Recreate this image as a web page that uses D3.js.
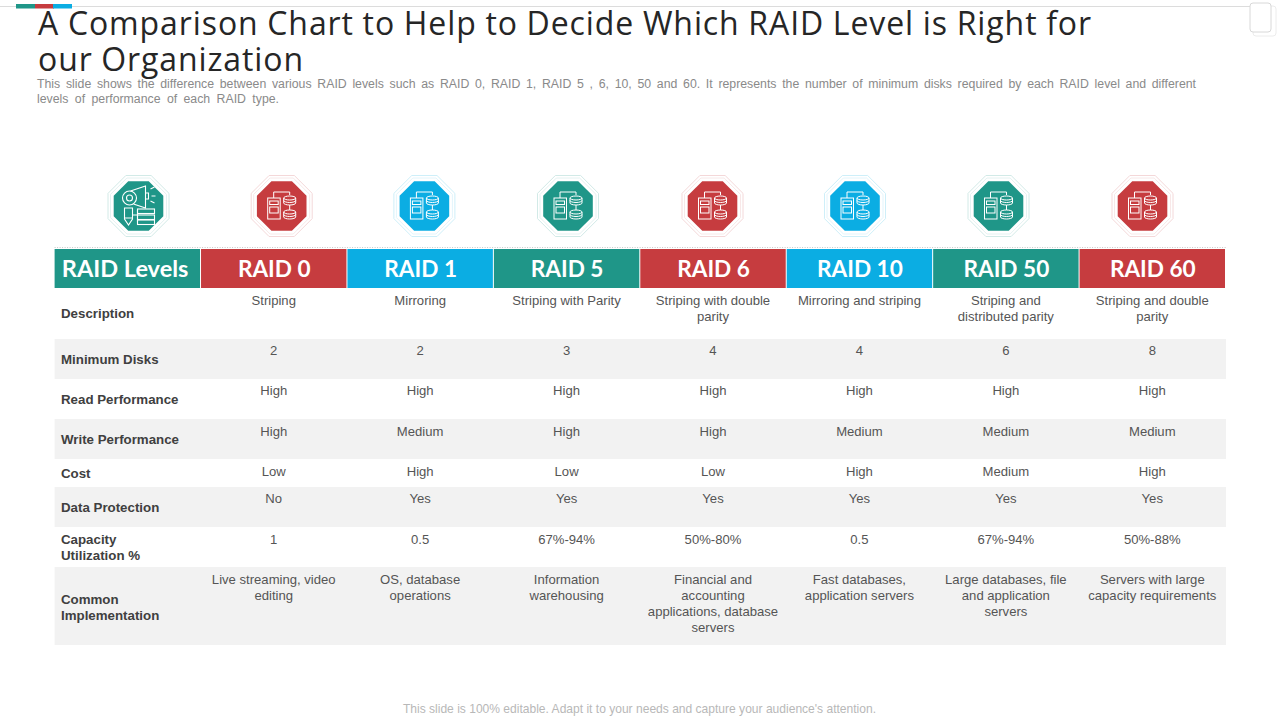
<!DOCTYPE html>
<html>
<head>
<meta charset="utf-8">
<script src="https://cdn.jsdelivr.net/npm/d3@7"></script>
<style>
  html, body { margin: 0; padding: 0; background: #fff; overflow: hidden; }
  svg { display: block; }
</style>
</head>
<body>
<div id="chart"></div>
<script>
const titleLines = ['A Comparison Chart to Help to Decide Which RAID Level is Right for', 'our Organization'];
const subtitleLines = [
  'This slide shows the difference between various RAID levels such as RAID 0, RAID 1, RAID 5 , 6, 10, 50 and 60. It represents the number of minimum disks required by each RAID level and different',
  'levels of performance of each RAID type.'
];
const footer = "This slide is 100% editable. Adapt it to your needs and capture your audience's attention.";

const headers = ['RAID Levels', 'RAID 0', 'RAID 1', 'RAID 5', 'RAID 6', 'RAID 10', 'RAID 50', 'RAID 60'];
const headerTheme = ['teal', 'red', 'blue', 'teal', 'red', 'blue', 'teal', 'red'];

const rowLabels = [
  ['Description'],
  ['Minimum Disks'],
  ['Read Performance'],
  ['Write Performance'],
  ['Cost'],
  ['Data Protection'],
  ['Capacity', 'Utilization %'],
  ['Common', 'Implementation']
];

const description = [['Striping'], ['Mirroring'], ['Striping with Parity'], ['Striping with double', 'parity'], ['Mirroring and striping'], ['Striping and', 'distributed parity'], ['Striping and double', 'parity']];
const minDisks = ['2', '2', '3', '4', '4', '6', '8'];
const readPerf = ['High', 'High', 'High', 'High', 'High', 'High', 'High'];
const writePerf = ['High', 'Medium', 'High', 'High', 'Medium', 'Medium', 'Medium'];
const cost = ['Low', 'High', 'Low', 'Low', 'High', 'Medium', 'High'];
const protection = ['No', 'Yes', 'Yes', 'Yes', 'Yes', 'Yes', 'Yes'];
const utilization = ['1', '0.5', '67%-94%', '50%-80%', '0.5', '67%-94%', '50%-88%'];
const implementation = [
  ['Live streaming, video', 'editing'],
  ['OS, database', 'operations'],
  ['Information', 'warehousing'],
  ['Financial and', 'accounting', 'applications, database', 'servers'],
  ['Fast databases,', 'application servers'],
  ['Large databases, file', 'and application', 'servers'],
  ['Servers with large', 'capacity requirements']
];
const rowValues = [description, minDisks, readPerf, writePerf, cost, protection, utilization, implementation];

// layout
const colors = { teal: '#1f9688', red: '#c63c3f', blue: '#0bade3' };
const rowEdges = [288, 339, 379, 419, 459, 487, 527, 567, 645];
const cellBaseline = [16.5, 16, 16, 16.5, 16.5, 16, 16.5, 16.5];
const tableX = [54.6, 1226];
const headerY = [249, 288];
const iconY = 206;
const iconCenters = [138.5, 281.7, 424.4, 568, 712.5, 855, 998.5, 1142.5];

const W = 1280, H = 720;
const svg = d3.select('#chart').append('svg').attr('width', W).attr('height', H);

const x = d3.scaleBand().domain(d3.range(headers.length)).range(tableX);
const iconX = d3.scaleOrdinal().domain(d3.range(headers.length)).range(iconCenters);
const rowTop = d3.scaleOrdinal().domain(d3.range(rowLabels.length)).range(rowEdges.slice(0, -1));
const rowBottom = d3.scaleOrdinal().domain(d3.range(rowLabels.length)).range(rowEdges.slice(1));
const lineGen = d3.line();

// stretch the gaps between words until a line fills the wanted width
function fitWords(sel, widths) {
  sel.each(function(d, i) {
    const gaps = d.split(' ').length - 1;
    const extra = widths[i] - this.getComputedTextLength();
    d3.select(this).attr('word-spacing', extra / gaps);
  });
}

// top strip
svg.append('line').attr('x1', 0).attr('x2', 1250).attr('y1', 6.5).attr('y2', 6.5)
  .attr('stroke', '#dcdcdc').attr('stroke-width', 1);
[['teal', 16], ['red', 35], ['blue', 53]].forEach(([c, px]) => {
  svg.append('rect').attr('x', px).attr('y', 4).attr('width', 19).attr('height', 4.5).attr('fill', colors[c]);
});

// page glyph top right
svg.append('rect').attr('x', 1253).attr('y', 6).attr('width', 23).attr('height', 30).attr('rx', 3)
  .attr('fill', '#fff').attr('stroke', '#ececec');
svg.append('rect').attr('x', 1250).attr('y', 3).attr('width', 21).attr('height', 29).attr('rx', 3)
  .attr('fill', '#fff').attr('stroke', '#d8d8d8');

// title, one text with a tspan per line
svg.append('text')
  .attr('font-family', '"Open Sans"').attr('font-size', 32).attr('fill', '#262626')
  .attr('letter-spacing', 0.9)
  .selectAll('tspan').data(titleLines).join('tspan')
  .attr('x', 38).attr('y', (d, i) => 35 + i * 36)
  .text(d => d)
  .call(fitWords, [1054, 266]);

svg.append('text')
  .attr('font-family', '"Liberation Sans"').attr('font-size', 12.3).attr('fill', '#8a8a8a')
  .selectAll('tspan').data(subtitleLines).join('tspan')
  .attr('x', 37).attr('y', (d, i) => 88 + i * 15)
  .text(d => d)
  .call(fitWords, [1159, 242]);

// icons
function octagon(r) {
  const k = r * 0.414;
  return lineGen([[-k, -r], [k, -r], [r, -k], [r, k], [k, r], [-k, r], [-r, k], [-r, -k]]) + 'Z';
}

function serverIcon(g) {
  g.attr('fill', 'none').attr('stroke', '#fff').attr('stroke-width', 1);
  g.append('rect').attr('x', -14).attr('y', -8).attr('width', 12.5).attr('height', 21);
  g.append('rect').attr('x', -12).attr('y', -5).attr('width', 8.5).attr('height', 3.5);
  g.append('rect').attr('x', -12).attr('y', 1).attr('width', 8.5).attr('height', 6);
  g.append('path').attr('d', 'M-8,-8V-14H8V-11');
  [[8, -8], [8, 6]].forEach(([cx, cy]) => {
    g.append('ellipse').attr('cx', cx).attr('cy', cy).attr('rx', 6).attr('ry', 2);
    g.append('path').attr('d', `M${cx - 6},${cy}V${cy + 5}A6,2 0 0 0 ${cx + 6},${cy + 5}V${cy}M${cx - 6},${cy + 2.5}A6,2 0 0 0 ${cx + 6},${cy + 2.5}`);
  });
  g.append('path').attr('d', 'M8,-1V4');
}

function megaphoneIcon(g) {
  g.attr('fill', 'none').attr('stroke', '#fff').attr('stroke-width', 1.1);
  g.append('circle').attr('cx', -9).attr('cy', -8).attr('r', 7);
  g.append('circle').attr('cx', -9).attr('cy', -8).attr('r', 3);
  g.append('path').attr('d', 'M-8,-15L7,-20V2L-5,-2M7,-13H10V-7H7M12,-17L16,-19M13,-10H17M12,-5L16,-3');
  g.append('path').attr('d', 'M-14,2V13L-10,19L-6,13V2ZM-14,12H-6');
  g.append('path').attr('d', 'M-6,9H-1M-1,4V16');
  [3, 9, 14].forEach(y => g.append('rect').attr('x', -1).attr('y', y).attr('width', 17).attr('height', 4.5));
}

const icons = svg.append('g').selectAll('g').data(headerTheme).join('g')
  .attr('transform', (d, i) => `translate(${iconX(i)},${iconY})`);
icons.append('path').attr('d', octagon(30.5)).attr('fill', '#fff')
  .attr('stroke', d => d3.interpolateRgb(colors[d], '#fff')(0.8)).attr('stroke-width', 1);
icons.append('path').attr('d', octagon(28)).attr('fill', 'none')
  .attr('stroke', d => d3.interpolateRgb(colors[d], '#fff')(0.88)).attr('stroke-width', 1);
icons.append('path').attr('d', octagon(24.8)).attr('fill', d => colors[d]);
icons.each(function(d, i) {
  const g = d3.select(this).append('g');
  if (i === 0) megaphoneIcon(g); else serverIcon(g);
});

// header
svg.append('line').attr('x1', tableX[0]).attr('x2', tableX[1]).attr('y1', 247.5).attr('y2', 247.5)
  .attr('stroke', '#c8c8c8').attr('stroke-dasharray', '1 1.5');
svg.append('g').selectAll('rect').data(headers).join('rect')
  .attr('x', (d, i) => x(i)).attr('y', headerY[0])
  .attr('width', x.bandwidth() - 1).attr('height', headerY[1] - headerY[0])
  .attr('fill', (d, i) => colors[headerTheme[i]]);
svg.append('g').selectAll('text').data(headers).join('text')
  .attr('x', (d, i) => i === 0 ? x(i) + 70.5 : x(i) + x.bandwidth() / 2)
  .attr('y', 277).attr('text-anchor', 'middle')
  .attr('font-family', 'Lato').attr('font-weight', 700)
  .attr('font-size', (d, i) => i === 0 ? 23.5 : 22.6).attr('fill', '#fff')
  .text(d => d);

// rows
const rows = svg.append('g').selectAll('g').data(rowLabels).join('g');
rows.filter((d, i) => i % 2 === 1).append('rect')
  .attr('x', tableX[0]).attr('width', tableX[1] - tableX[0])
  .attr('y', (d) => rowTop(rowLabels.indexOf(d)))
  .attr('height', (d) => rowBottom(rowLabels.indexOf(d)) - rowTop(rowLabels.indexOf(d)))
  .attr('fill', '#f2f2f2');

rows.each(function(label, r) {
  const g = d3.select(this);
  const mid = (rowTop(r) + rowBottom(r)) / 2;
  g.selectAll('text.label').data(label).join('text').attr('class', 'label')
    .attr('x', 61)
    .attr('y', (d, i) => mid + 4.5 + (r === 7 ? 1 : 0) + (i - (label.length - 1) / 2) * 16)
    .attr('font-family', '"Liberation Sans"').attr('font-weight', 700).attr('font-size', 13.3)
    .attr('fill', '#404040')
    .text(d => d);
  rowValues[r].forEach((cell, c) => {
    const lines = Array.isArray(cell) ? cell : [cell];
    g.append('g').selectAll('text').data(lines).join('text')
      .attr('x', x(c + 1) + x.bandwidth() / 2 - 0.5)
      .attr('y', (d, i) => rowTop(r) + cellBaseline[r] + i * 16)
      .attr('text-anchor', 'middle')
      .attr('font-family', '"Liberation Sans"').attr('font-size', 13.1).attr('fill', '#555')
      .text(d => d);
  });
});

svg.append('text').attr('x', 639.5).attr('y', 713).attr('text-anchor', 'middle')
  .attr('font-family', '"Liberation Sans"').attr('font-size', 12.05).attr('fill', '#b8b8b8')
  .text(footer);
</script>
</body>
</html>
